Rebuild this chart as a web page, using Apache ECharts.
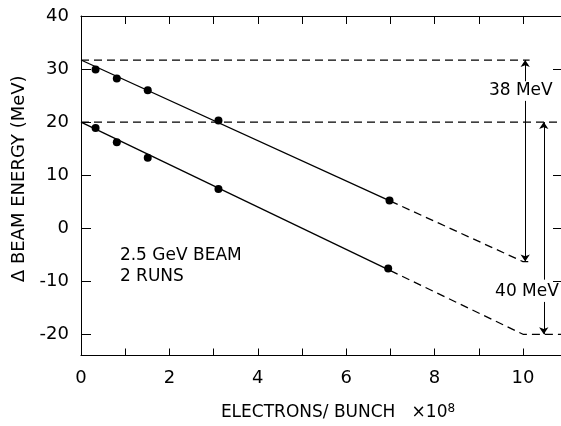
<!DOCTYPE html>
<html>
<head>
<meta charset="utf-8">
<script src="https://cdn.jsdelivr.net/npm/echarts@6/dist/echarts.min.js"></script>
<style>
  html, body { margin: 0; background: #fff; }
  #chart { width: 561px; height: 426px; }
</style>
</head>
<body>
<div id="chart"></div>
<script>
// measured points, two runs
const upperX = [0.33, 0.81, 1.51, 3.11, 6.98];
const upperY = [29.9, 28.2, 26.0, 20.3, 5.2];
const lowerX = [0.33, 0.81, 1.51, 3.11, 6.95];
const lowerY = [18.9, 16.2, 13.3, 7.4, -7.6];

// fitted lines (solid up to the last point, dashed extrapolation after)
const upperFitX = [0, 7, 10, 10.15];
const upperFitY = [31.7, 5.1, -6.3, -6.3];
const lowerFitX = [0, 7, 10, 10.86];
const lowerFitY = [20, -8, -20, -20];

// horizontal reference levels and where they stop
const refLevels = [31.7, 20];
const refEnds = [10.15, 10.86];

// energy spread arrows: x, top, bottom, gap for the label
const spreadX = [10.05, 10.47];
const spreadTop = [31.7, 20];
const spreadBottom = [-6.3, -20];
const spreadGapTop = [27.7, -9.7];
const spreadGapBottom = [24.0, -13.9];
const spreadLabels = ['38 MeV', '40 MeV'];
const spreadLabelPos = [[9.95, 25.9], [10.09, -12.0]];

const beamNotes = ['2.5 GeV BEAM', '2 RUNS'];
const beamNotePos = [[0.88, -5.1], [0.88, -9.2]];

const xLabelTicks = [0, 2, 4, 6, 8, 10];
const xTicks = [1, 2, 3, 4, 5, 6, 7, 8, 9, 10];
const yLabelTicks = [-20, -10, 0, 10, 20, 30, 40];

const ink = '#000';
const font = 'DejaVu Sans';

const pairs = (xs, ys) => xs.map((x, i) => [x, ys[i]]);

const upperFit = pairs(upperFitX, upperFitY);
const lowerFit = pairs(lowerFitX, lowerFitY);

let arrowData = [];
spreadX.forEach((x, i) => {
    arrowData.push({ coords: [[x, spreadGapTop[i]], [x, spreadTop[i]]] });
    arrowData.push({ coords: [[x, spreadGapBottom[i]], [x, spreadBottom[i]]] });
});

const lineSeries = (data, dashed) => ({
    type: 'line',
    data: data,
    symbol: 'none',
    silent: true,
    lineStyle: { color: ink, width: 1.3, type: dashed ? [8, 5] : 'solid' }
});

const chart = echarts.init(document.getElementById('chart'));

chart.setOption({
    animation: false,
    backgroundColor: '#fff',
    grid: { left: 81, right: 0, top: 16, bottom: 62 },
    xAxis: [
        {
            type: 'value', min: 0, max: 10.86,
            position: 'bottom',
            splitLine: { show: false },
            axisLine: { onZero: false, lineStyle: { color: ink, width: 1.2 } },
            axisTick: { show: true, inside: true, length: 7, customValues: xTicks, lineStyle: { color: ink } },
            axisLabel: { customValues: xLabelTicks, margin: 14, color: ink, fontSize: 18, fontFamily: font },
            name: '{t|ELECTRONS/ BUNCH   ×10}{s|8}',
            nameLocation: 'middle',
            nameGap: 47,
            nameTextStyle: {
                padding: [0, 0, 0, 34],
                rich: {
                    t: { fontSize: 17, fontFamily: font, color: ink },
                    s: { fontSize: 12, fontFamily: font, color: ink, verticalAlign: 'top', padding: [0, 0, 8, 0] }
                }
            }
        },
        {
            type: 'value', min: 0, max: 10.86,
            position: 'top',
            splitLine: { show: false },
            axisLine: { show: true, onZero: false, lineStyle: { color: ink, width: 1.2 } },
            axisTick: { show: true, inside: true, length: 8, customValues: xTicks, lineStyle: { color: ink } },
            axisLabel: { show: false }
        }
    ],
    yAxis: [
        {
            type: 'value', min: -24, max: 40,
            position: 'left',
            splitLine: { show: false },
            axisLine: { show: true, onZero: false, lineStyle: { color: ink, width: 1 } },
            axisTick: { show: true, inside: true, length: 10, customValues: yLabelTicks, lineStyle: { color: ink } },
            axisLabel: { customValues: yLabelTicks, margin: 12, color: ink, fontSize: 18, fontFamily: font },
            name: 'Δ BEAM ENERGY (MeV)',
            nameLocation: 'middle',
            nameGap: 50,
            nameTextStyle: { fontSize: 18, fontFamily: font, color: ink, padding: [0, 0, 0, 14] }
        },
        {
            type: 'value', min: -24, max: 40,
            position: 'right',
            splitLine: { show: false },
            axisLine: { show: false, onZero: false },
            axisTick: { show: true, inside: true, length: 8, customValues: [-10, 0, 10, 30], lineStyle: { color: ink } },
            axisLabel: { show: false }
        }
    ],
    series: [
        lineSeries([[0, refLevels[0]], [refEnds[0], refLevels[0]]], true),
        lineSeries([[0, refLevels[1]], [refEnds[1], refLevels[1]]], true),
        lineSeries(upperFit.slice(0, 2), false),
        lineSeries(upperFit.slice(1), true),
        lineSeries(lowerFit.slice(0, 2), false),
        lineSeries(lowerFit.slice(1), true),
        {
            type: 'lines',
            coordinateSystem: 'cartesian2d',
            silent: true,
            symbol: ['none', 'arrow'],
            symbolSize: [4, 7],
            lineStyle: { color: ink, width: 1, opacity: 1 },
            data: arrowData
        },
        {
            type: 'scatter',
            data: pairs(upperX, upperY).concat(pairs(lowerX, lowerY)),
            symbolSize: 8,
            itemStyle: { color: ink, opacity: 1 }
        },
        {
            type: 'scatter',
            symbolSize: 0,
            silent: true,
            itemStyle: { opacity: 1 },
            data: spreadLabels.map((t, i) => ({ name: t, value: spreadLabelPos[i] })),
            label: {
                show: true, position: 'inside', formatter: p => p.name,
                color: ink, fontSize: 17, fontFamily: font
            }
        },
        {
            type: 'scatter',
            symbolSize: 0,
            silent: true,
            itemStyle: { opacity: 1 },
            data: beamNotes.map((t, i) => ({ name: t, value: beamNotePos[i] })),
            label: {
                show: true, position: 'right', distance: 0, formatter: p => p.name,
                color: ink, fontSize: 17, fontFamily: font
            }
        }
    ]
});
</script>
</body>
</html>
